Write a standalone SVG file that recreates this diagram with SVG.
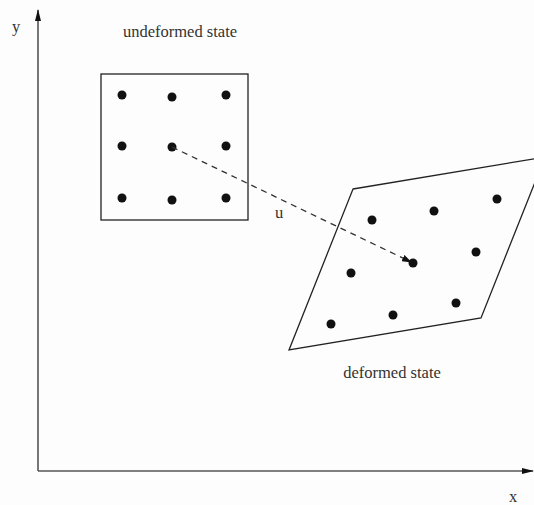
<svg xmlns="http://www.w3.org/2000/svg" width="534" height="505" viewBox="0 0 534 505">
<style>
text{font-family:"Liberation Serif","Times New Roman",serif;fill:#333;}
.lbl{font-size:16.5px;}
.shape{fill:none;stroke:#222;stroke-width:1.3;}
.dot{fill:#111;}
.axis{stroke:#555;stroke-width:1.6;fill:none;}
.disp{stroke:#333;stroke-width:1.3;stroke-dasharray:6 5;fill:none;}
</style>
<defs>
<marker id="axhead" viewBox="0 0 12 6" refX="11" refY="3" markerWidth="12" markerHeight="6" markerUnits="userSpaceOnUse" orient="auto">
<path d="M0,0 L12,3 L0,6 Z" fill="#111"/>
</marker>
<marker id="dhead" viewBox="0 0 10 7" refX="9" refY="3.5" markerWidth="10" markerHeight="7" markerUnits="userSpaceOnUse" orient="auto">
<path d="M0,0 L10,3.5 L0,7 Z" fill="#111"/>
</marker>
</defs>
<rect width="534" height="505" fill="#fdfdfd"/>
<g id="axes">
<line class="axis" x1="38" y1="471" x2="38" y2="10" marker-end="url(#axhead)"/>
<line class="axis" x1="38" y1="471" x2="533" y2="471" marker-end="url(#axhead)"/>
<text class="lbl" x="12" y="32">y</text>
<text class="lbl" x="509" y="502">x</text>
</g>
<g id="undeformed">
<rect class="shape" x="101" y="74" width="147" height="146"/>
<circle class="dot" cx="122" cy="95" r="4.5"/>
<circle class="dot" cx="172" cy="97" r="4.5"/>
<circle class="dot" cx="226" cy="95" r="4.5"/>
<circle class="dot" cx="122" cy="146" r="4.5"/>
<circle class="dot" cx="172" cy="147" r="4.5"/>
<circle class="dot" cx="226" cy="146" r="4.5"/>
<circle class="dot" cx="122" cy="198" r="4.5"/>
<circle class="dot" cx="172" cy="200" r="4.5"/>
<circle class="dot" cx="226" cy="198" r="4.5"/>
<text class="lbl" x="180" y="37" text-anchor="middle">undeformed state</text>
</g>
<g id="deformed">
<polygon class="shape" points="353,189 545,157 481,318 289,350"/>
<circle class="dot" cx="372" cy="220" r="4.5"/>
<circle class="dot" cx="434" cy="211" r="4.5"/>
<circle class="dot" cx="497" cy="199" r="4.5"/>
<circle class="dot" cx="351" cy="273" r="4.5"/>
<circle class="dot" cx="413" cy="263" r="4.5"/>
<circle class="dot" cx="476" cy="252" r="4.5"/>
<circle class="dot" cx="331" cy="324" r="4.5"/>
<circle class="dot" cx="393" cy="315" r="4.5"/>
<circle class="dot" cx="456" cy="303" r="4.5"/>
<text class="lbl" x="392" y="378" text-anchor="middle">deformed state</text>
</g>
<g id="connectors">
<line class="disp" x1="172" y1="147" x2="411" y2="262" marker-end="url(#dhead)"/>
<text class="lbl" x="275" y="218">u</text>
</g>
</svg>
